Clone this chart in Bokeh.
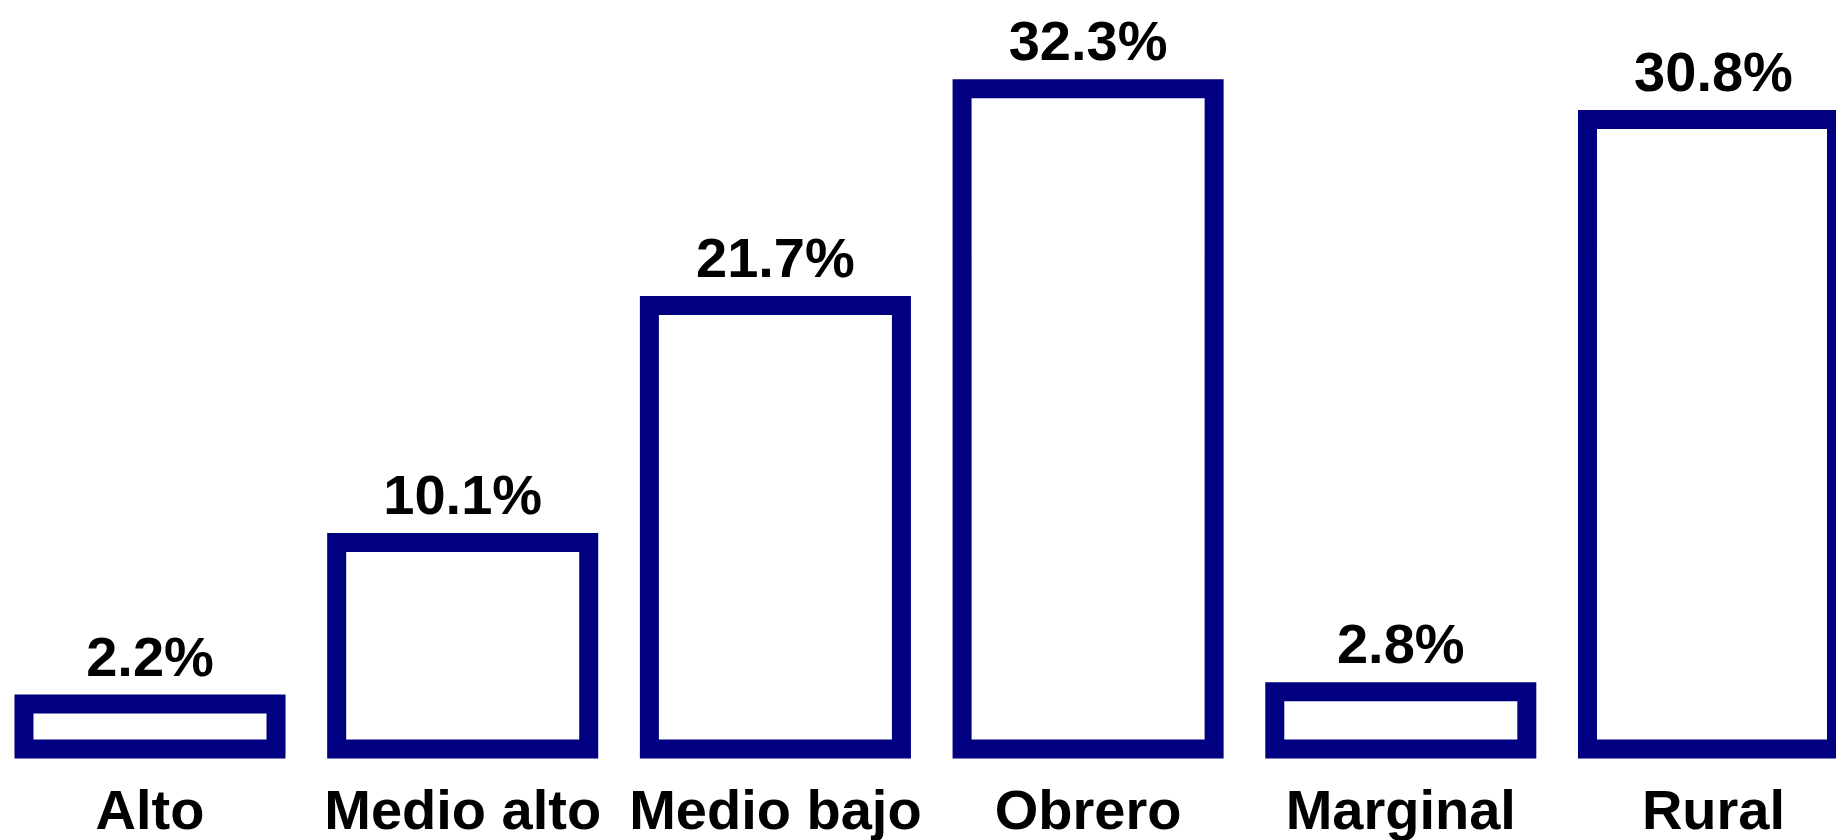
from bokeh.plotting import figure
from bokeh.models import ColumnDataSource, Range1d
from bokeh.core.properties import value
from bokeh.embed import file_html
from bokeh.resources import INLINE

categories = ["Alto", "Medio alto", "Medio bajo", "Obrero", "Marginal", "Rural"]
percentages = [2.2, 10.1, 21.7, 32.3, 2.8, 30.8]
value_labels = [f"{v:.1f}%" for v in percentages]

positions = list(range(len(categories)))
source = ColumnDataSource(dict(
    x=positions,
    top=percentages,
    zero=[0] * len(categories),
    label=value_labels,
    cat=categories,
))

W, H = 1836, 840
unit = 312.7          # pixels per category
left_px = 149.5       # center of first category from frame left
x_start = -left_px / unit
x_end = x_start + W / unit

ppu = 20.44           # pixels per percent
base_px = 748.5       # y of zero line from frame top
y_end = base_px / ppu
y_start = -(H - base_px) / ppu

p = figure(width=W, height=H, output_backend="svg", toolbar_location=None,
           x_range=Range1d(x_start, x_end), y_range=Range1d(y_start, y_end),
           min_border=0, outline_line_color=None)
p.axis.visible = False
p.grid.visible = False
p.background_fill_color = "white"
p.border_fill_color = "white"

p.vbar(x="x", top="top", bottom=0, width=0.806, source=source,
       fill_color="white", line_color="#000080", line_width=19,
       line_join="miter")

p.text(x="x", y="top", text="label", source=source,
       text_align="center", text_baseline="alphabetic", y_offset=-48,
       text_font=value("Liberation Sans"), text_font_style="bold",
       text_font_size="56px", text_color="black")

p.text(x="x", y="zero", text="cat", source=source,
       text_align="center", text_baseline="alphabetic", y_offset=60.5,
       text_font=value("Liberation Sans"), text_font_style="bold",
       text_font_size="56px", text_color="black")

open("out.html", "w").write(file_html(p, INLINE))
